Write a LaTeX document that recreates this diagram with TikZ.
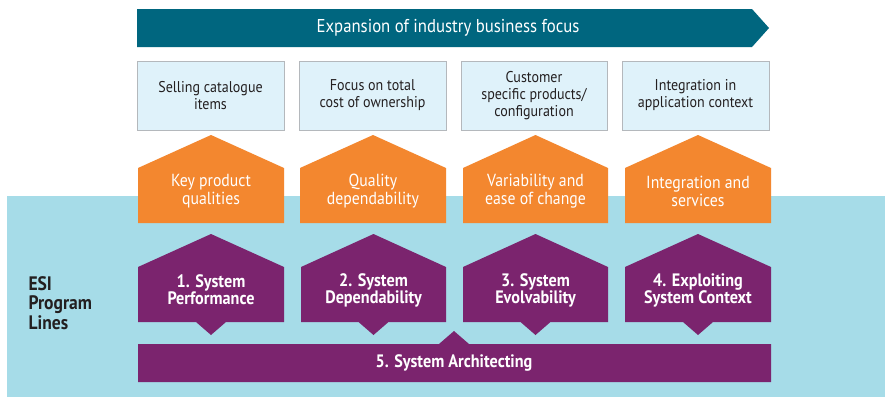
\documentclass[tikz,border=0pt]{standalone}
\usepackage{fontspec}
\setmainfont{PT Sans}[FakeStretch=0.9]
\definecolor{teal1}{HTML}{00667F}
\definecolor{lightbox}{HTML}{DFF2FA}
\definecolor{boxline}{HTML}{B4B8BC}
\definecolor{orange1}{HTML}{F3872F}
\definecolor{purple1}{HTML}{7B246E}
\definecolor{cyanbg}{HTML}{A6DCE8}
\definecolor{darktext}{HTML}{231F20}
\begin{document}
\begin{tikzpicture}[x=1pt,y=-1pt,
  boxtext/.style={text=darktext,font=\fontsize{15.6}{17}\selectfont,align=center},
  orangetext/.style={text=white,font=\fontsize{17.5}{18}\selectfont,align=center},
  purpletext/.style={text=white,font=\bfseries\fontsize{18}{17}\selectfont,align=center},
  lightboxstyle/.style={fill=lightbox,draw=boxline,line width=1pt}]
\useasboundingbox (0,0) rectangle (885,397);
\fill[white] (0,0) rectangle (885,397);
% cyan background
\fill[cyanbg] (7,196) rectangle (885,397);
% banner arrow
\fill[teal1] (137,9) -- (752,9) -- (769,28) -- (752,47) -- (137,47) -- cycle;
\node[text=white,font=\fontsize{18.6}{18}\selectfont] (banner) at (448,28) {Expansion of industry business focus};
% light boxes
\foreach \l/\r/\n in {137/284/1,299/446/2,461/607/3,622/769/4}{
  \draw[lightboxstyle] (\l,61) rectangle (\r,130);
  \coordinate (box\n) at ({(\l+\r)/2},95.5);
}
\node[boxtext] (t1) at (box1) {Selling catalogue\\items};
\node[boxtext] (t2) at (box2) {Focus on total\\cost of ownership};
\node[boxtext] (t3) at (box3) {Customer\\specific products/\\configuration};
\node[boxtext] (t4) at (box4) {Integration in\\application context};
% orange houses
\foreach \l/\r/\n in {138/284/1,300/446/2,463/608/3,625/771/4}{
  \fill[orange1] (\l,223) -- (\l,168) -- ({(\l+\r)/2},135) -- (\r,168) -- (\r,223) -- cycle;
  \coordinate (or\n) at ({(\l+\r)/2},191);
}
\node[orangetext] (o1) at (or1) {Key product\\qualities};
\node[orangetext] (o2) at (or2) {Quality\\dependability};
\node[orangetext] (o3) at (or3) {Variability and\\ease of change};
\node[orangetext] (o4) at (or4) {Integration and\\services};
% purple houses with notches
\foreach \l/\r/\n in {138/284/1,301/446/2,463/608/3,625/771/4}{
  \fill[purple1] (\l,322) -- (\l,267) -- ({(\l+\r)/2},234) -- (\r,267) -- (\r,322)
     -- ({(\l+\r)/2+15},322) -- ({(\l+\r)/2},335) -- ({(\l+\r)/2-15},322) -- cycle;
  \coordinate (pu\n) at ({(\l+\r)/2},290);
}
\node[purpletext] (p1) at (pu1) {1. System\\Performance};
\node[purpletext] (p2) at (pu2) {2. System\\Dependability};
\node[purpletext] (p3) at (pu3) {3. System\\Evolvability};
\node[purpletext] (p4) at (pu4) {4. Exploiting\\System Context};
% bottom bar
\fill[purple1] (138,344) -- (439,344) -- (454,331) -- (469,344) -- (771,344) -- (771,382) -- (138,382) -- cycle;
\node[purpletext] (p5) at (454,363) {5. System Architecting};
% side label
\node[text=darktext,font=\bfseries\fontsize{19.5}{19.5}\selectfont,align=left,anchor=west] (esi) at (25,303) {ESI\\Program\\Lines};
\end{tikzpicture}
\end{document}
